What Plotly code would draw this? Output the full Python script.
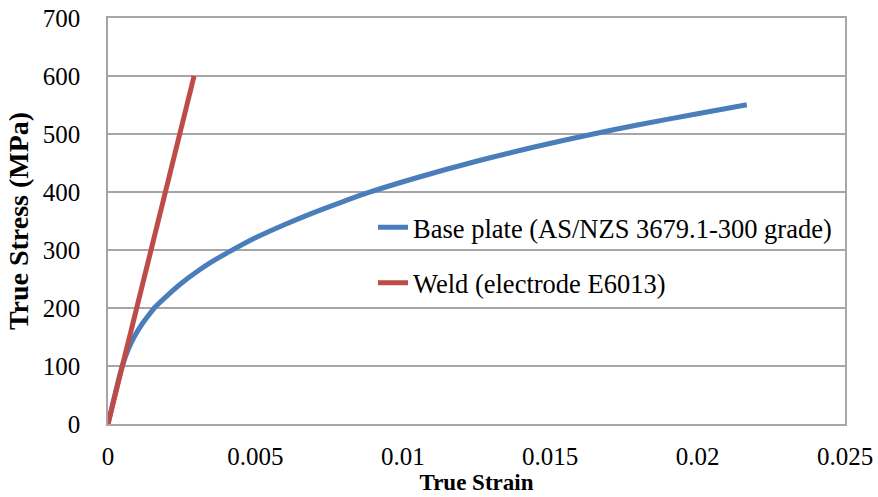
import plotly.graph_objects as go

# Base plate (AS/NZS 3679.1-300 grade) true stress-strain curve
base_strain = [0, 0.000485, 0.0007, 0.0009, 0.00115, 0.0014, 0.00157, 0.002,
               0.0025, 0.003, 0.0035, 0.00415, 0.005, 0.006, 0.007, 0.008,
               0.00877, 0.0105, 0.0125, 0.0145, 0.01646, 0.018, 0.02, 0.02167]
base_stress = [0, 100, 130, 151, 172, 189, 200, 221,
               243, 262, 279, 298, 321, 344, 365, 384,
               398, 425, 453, 478, 500, 516, 535, 550.5]

# Weld (electrode E6013)
weld_strain = [0, 0.00292]
weld_stress = [0, 600]

x_ticks = [0, 0.005, 0.01, 0.015, 0.02, 0.025]
x_tick_labels = ["0", "0.005", "0.01", "0.015", "0.02", "0.025"]
y_ticks = [0, 100, 200, 300, 400, 500, 600, 700]

FONT = "Liberation Serif, Times New Roman, serif"
GRID = "#A6A6A6"

fig = go.Figure()
fig.add_trace(go.Scatter(
    x=base_strain, y=base_stress, mode="lines",
    line=dict(color="#4A7EBB", width=5, shape="spline", smoothing=0.8),
    name="Base plate (AS/NZS 3679.1-300 grade)", legendgroup="a"))
fig.add_trace(go.Scatter(
    x=weld_strain, y=weld_stress, mode="lines",
    name="Weld (electrode E6013)",
    line=dict(color="#BE4B48", width=5), legendgroup="b"))

fig.update_layout(
    width=878, height=497,
    margin=dict(l=108, r=33, t=18, b=73),
    paper_bgcolor="white", plot_bgcolor="white",
    font=dict(family=FONT, size=25, color="black"),
    showlegend=True,
    legend=dict(x=0.3596, y=0.416, xanchor="left", yanchor="middle",
                bgcolor="rgba(0,0,0,0)", font=dict(family=FONT, size=26.5, color="black"),
                traceorder="grouped", tracegroupgap=18, itemwidth=30),
    xaxis=dict(range=[0, 0.025], tickvals=x_ticks, ticktext=x_tick_labels,
               tickfont=dict(family=FONT, size=25, color="black"),
               showgrid=False, showline=True, linecolor=GRID, linewidth=1.5,
               mirror=True, ticks="", zeroline=False, automargin=False,
               ticklabelstandoff=9,
               title=dict(text="<b>True Strain</b>", standoff=0,
                          font=dict(family=FONT, size=23, color="black"))),
    yaxis=dict(range=[0, 700], tickvals=y_ticks,
               tickfont=dict(family=FONT, size=25, color="black"),
               showgrid=True, gridcolor=GRID, gridwidth=1.5,
               showline=True, linecolor=GRID, linewidth=1.5, mirror=True,
               ticks="", zeroline=False, automargin=False, ticklabelstandoff=21,
               title=dict(text="<b>True Stress (MPa)</b>", standoff=6,
                          font=dict(family=FONT, size=28, color="black"))),
)

fig.write_html("out.html", config={"displayModeBar": False},
               post_script="document.body.style.margin='0';")
